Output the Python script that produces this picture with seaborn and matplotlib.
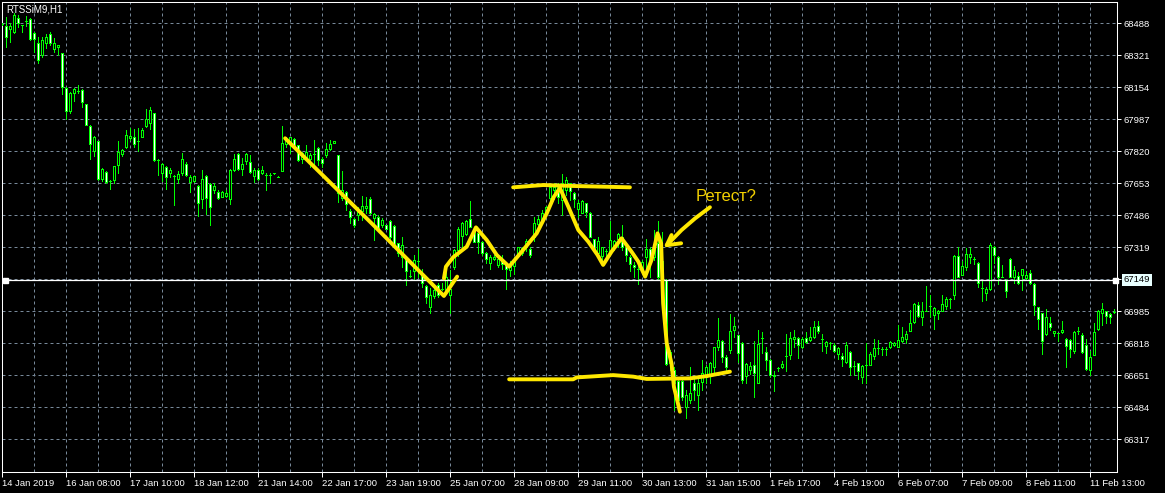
import numpy as np
import matplotlib
matplotlib.use("Agg")
import matplotlib.pyplot as plt
import seaborn as sns

# ---------------- data (H1 bars, RTS-3.19 futures) ----------------
opens = [68483, 68474, 68457, 68441, 68514, 68480, 68502, 68509, 68436, 68384,
         68325, 68384, 68433, 68356, 68363, 68332, 68149, 68032, 68123, 68133,
         68140, 68065, 67952, 67824, 67872, 67676, 67712, 67667, 67670, 67750,
         67806, 67844, 67890, 67893, 67872, 67897, 67952, 67970, 68018, 67775,
         67705, 67740, 67709, 67691, 67677, 67705, 67754, 67662, 67667, 67639,
         67569, 67691, 67649, 67618, 67608, 67583, 67587, 67573, 67722, 67806,
         67726, 67771, 67764, 67691, 67722, 67705, 67698, 67698, 67705, 67688,
         67719, 67858, 67870, 67886, 67851, 67778, 67792, 67782, 67806, 67837,
         67778, 67799, 67834, 67862, 67799, 67575, 67608, 67510, 67465, 67486,
         67510, 67524, 67573, 67470, 67479, 67434, 67434, 67458, 67430, 67340,
         67270, 67267, 67169, 67197, 67249, 67173, 67117, 67009, 67065, 67122,
         67103, 67096, 67072, 67218, 67305, 67378, 67389, 67465, 67409, 67392,
         67347, 67291, 67239, 67256, 67225, 67260, 67228, 67201, 67222, 67274,
         67288, 67319, 67312, 67375, 67441, 67462, 67496, 67575, 67618, 67636,
         67566, 67618, 67653, 67604, 67517, 67500, 67549, 67500, 67361, 67291,
         67274, 67298, 67302, 67326, 67364, 67375, 67319, 67267, 67225, 67208,
         67208, 67270, 67309, 67267, 67340, 67166, 67148, 66713, 66679, 66623,
         66619, 66487, 66522, 66609, 66546, 66616, 66644, 66658, 66696, 66800,
         66832, 66745, 66783, 66887, 66860, 66821, 66647, 66679, 66705, 66613,
         66844, 66773, 66731, 66651, 66691, 66693, 66752, 66759, 66839, 66846,
         66797, 66846, 66835, 66849, 66908, 66839, 66804, 66821, 66811, 66762,
         66752, 66720, 66773, 66700, 66713, 66644, 66703, 66706, 66752, 66794,
         66787, 66790, 66797, 66807, 66800, 66832, 66839, 66884, 66929, 67016,
         66957, 66988, 67013, 66968, 66974, 66988, 67013, 67051, 67068, 67274,
         67176, 67215, 67267, 67256, 67239, 67107, 67082, 67100, 67319, 67270,
         67166, 67149, 67256, 67166, 67169, 67173, 67159, 67183, 67128, 67005,
         66974, 66867, 66922, 66870, 66870, 66877, 66839, 66835, 66776, 66884,
         66860, 66807, 66679, 66759, 66894, 66974, 66985, 66971, 66981]
highs = [68490, 68520, 68492, 68540, 68532, 68480, 68526, 68514, 68440, 68415,
         68419, 68431, 68443, 68410, 68373, 68335, 68154, 68132, 68149, 68165,
         68144, 68067, 67956, 67900, 67876, 67731, 67716, 67670, 67744, 67876,
         67830, 67931, 67940, 67938, 67942, 67940, 68039, 68053, 68022, 67778,
         67757, 67744, 67731, 67695, 67716, 67813, 67763, 67696, 67691, 67644,
         67722, 67695, 67653, 67653, 67618, 67611, 67618, 67729, 67806, 67809,
         67783, 67809, 67799, 67733, 67733, 67743, 67705, 67705, 67707, 67690,
         67952, 67897, 67897, 67890, 67855, 67816, 67855, 67809, 67879, 67841,
         67792, 67865, 67879, 67872, 67803, 67717, 67611, 67517, 67472, 67531,
         67587, 67580, 67580, 67500, 67486, 67470, 67437, 67462, 67434, 67343,
         67375, 67270, 67201, 67277, 67312, 67208, 67121, 67105, 67121, 67131,
         67135, 67204, 67201, 67312, 67423, 67451, 67462, 67563, 67423, 67399,
         67350, 67295, 67277, 67277, 67260, 67277, 67235, 67249, 67267, 67322,
         67322, 67361, 67322, 67479, 67483, 67514, 67535, 67646, 67653, 67653,
         67702, 67684, 67657, 67608, 67566, 67566, 67552, 67503, 67364, 67375,
         67322, 67312, 67458, 67357, 67396, 67436, 67336, 67277, 67242, 67222,
         67253, 67361, 67319, 67409, 67458, 67400, 67152, 66783, 66696, 66626,
         66626, 66574, 66696, 66644, 66630, 66731, 66705, 66722, 66800, 66948,
         66835, 66755, 66971, 66957, 66863, 66825, 66713, 66720, 66832, 66887,
         66877, 66797, 66738, 66672, 66696, 66724, 66867, 66877, 66887, 66849,
         66849, 66877, 66901, 66936, 66936, 66867, 66828, 66825, 66818, 66797,
         66769, 66825, 66776, 66727, 66717, 66706, 66821, 66773, 66842, 66835,
         66797, 66797, 66828, 66825, 66912, 66905, 66884, 66992, 67027, 67034,
         67034, 67117, 67068, 67005, 66992, 67068, 67058, 67055, 67277, 67319,
         67249, 67316, 67316, 67267, 67242, 67149, 67110, 67340, 67326, 67274,
         67225, 67152, 67263, 67222, 67190, 67208, 67194, 67201, 67131, 67010,
         66978, 66999, 66954, 66884, 66874, 66933, 66846, 66842, 66880, 66905,
         66870, 66839, 66780, 66922, 66992, 67027, 66988, 66974, 66999]
lows = [68478, 68363, 68392, 68436, 68471, 68440, 68474, 68401, 68339, 68283,
        68314, 68358, 68375, 68340, 68323, 68119, 67991, 68018, 68085, 68126,
        68050, 67956, 67778, 67796, 67670, 67665, 67656, 67622, 67656, 67709,
        67796, 67836, 67879, 67844, 67824, 67893, 67949, 67938, 67768, 67698,
        67667, 67625, 67688, 67542, 67653, 67698, 67691, 67609, 67662, 67482,
        67522, 67493, 67435, 67601, 67569, 67580, 67580, 67545, 67719, 67722,
        67695, 67754, 67705, 67662, 67670, 67702, 67618, 67653, 67703, 67686,
        67716, 67844, 67810, 67841, 67771, 67757, 67775, 67740, 67740, 67749,
        67740, 67792, 67827, 67862, 67557, 67566, 67514, 67446, 67427, 67461,
        67461, 67496, 67493, 67357, 67409, 67427, 67413, 67361, 67322, 67274,
        67218, 67122, 67166, 67148, 67162, 67114, 67027, 66978, 67054, 67061,
        67096, 67093, 66978, 67208, 67274, 67322, 67382, 67423, 67347, 67291,
        67277, 67239, 67208, 67253, 67218, 67208, 67103, 67169, 67180, 67267,
        67277, 67302, 67270, 67350, 67434, 67458, 67489, 67549, 67570, 67549,
        67488, 67592, 67566, 67531, 67479, 67496, 67479, 67371, 67298, 67284,
        67235, 67267, 67295, 67305, 67322, 67305, 67249, 67197, 67166, 67128,
        67201, 67201, 67166, 67253, 67152, 67148, 66705, 66679, 66470, 66470,
        66522, 66426, 66505, 66522, 66470, 66574, 66609, 66609, 66661, 66783,
        66722, 66672, 66766, 66853, 66722, 66609, 66609, 66658, 66539, 66609,
        66766, 66679, 66644, 66571, 66675, 66689, 66675, 66738, 66800, 66741,
        66793, 66821, 66832, 66846, 66870, 66776, 66766, 66790, 66773, 66738,
        66700, 66717, 66651, 66651, 66630, 66613, 66613, 66703, 66738, 66762,
        66755, 66755, 66793, 66804, 66797, 66825, 66821, 66884, 66926, 66954,
        66915, 66985, 66954, 66894, 66947, 66985, 66999, 67002, 67051, 67162,
        67173, 67201, 67239, 67232, 67110, 67041, 67044, 67096, 67239, 67128,
        67162, 67062, 67162, 67131, 67128, 67096, 67152, 67128, 66968, 66894,
        66762, 66860, 66887, 66856, 66832, 66874, 66693, 66748, 66766, 66867,
        66766, 66679, 66654, 66755, 66887, 66912, 66922, 66922, 66974]
closes = [68483, 68419, 68474, 68532, 68492, 68478, 68502, 68405, 68405, 68297,
          68401, 68415, 68384, 68384, 68373, 68154, 68029, 68126, 68144, 68133,
          68078, 67959, 67857, 67897, 67676, 67728, 67662, 67667, 67744, 67817,
          67827, 67904, 67900, 67857, 67872, 67931, 67989, 68036, 67775, 67775,
          67754, 67688, 67723, 67691, 67702, 67780, 67697, 67688, 67691, 67548,
          67674, 67575, 67528, 67639, 67575, 67608, 67604, 67722, 67778, 67726,
          67754, 67806, 67711, 67722, 67677, 67722, 67698, 67698, 67705, 67688,
          67865, 67882, 67893, 67844, 67775, 67813, 67816, 67802, 67806, 67775,
          67757, 67830, 67858, 67872, 67604, 67618, 67545, 67475, 67437, 67504,
          67535, 67535, 67500, 67491, 67418, 67462, 67416, 67375, 67326, 67288,
          67329, 67194, 67169, 67253, 67249, 67131, 67061, 67070, 67096, 67068,
          67103, 67166, 67100, 67305, 67416, 67448, 67458, 67427, 67349, 67347,
          67288, 67256, 67267, 67270, 67256, 67232, 67208, 67222, 67253, 67319,
          67314, 67354, 67277, 67444, 67469, 67496, 67528, 67636, 67636, 67583,
          67653, 67670, 67615, 67570, 67552, 67563, 67503, 67375, 67305, 67354,
          67319, 67298, 67357, 67354, 67389, 67319, 67277, 67232, 67215, 67208,
          67242, 67309, 67235, 67336, 67166, 67250, 66710, 66774, 66609, 66522,
          66539, 66546, 66557, 66574, 66609, 66665, 66696, 66713, 66797, 66835,
          66745, 66696, 66884, 66908, 66769, 66626, 66710, 66700, 66665, 66814,
          66844, 66731, 66654, 66647, 66691, 66710, 66752, 66846, 66849, 66807,
          66842, 66825, 66849, 66905, 66880, 66839, 66825, 66821, 66776, 66794,
          66734, 66811, 66693, 66700, 66672, 66700, 66703, 66762, 66794, 66794,
          66787, 66790, 66825, 66821, 66835, 66853, 66867, 66922, 67023, 66961,
          66988, 66988, 67013, 67002, 66985, 67023, 67048, 67051, 67274, 67166,
          67222, 67284, 67284, 67256, 67131, 67107, 67100, 67333, 67281, 67166,
          67166, 67093, 67166, 67201, 67131, 67204, 67173, 67131, 67020, 66943,
          66832, 66954, 66901, 66880, 66870, 66887, 66804, 66787, 66877, 66884,
          66773, 66682, 66748, 66877, 66985, 66999, 66961, 66954, 66981]

x_tick_labels = ["14 Jan 2019", "16 Jan 08:00", "17 Jan 10:00", "18 Jan 12:00",
                 "21 Jan 14:00", "22 Jan 17:00", "23 Jan 19:00", "25 Jan 07:00",
                 "28 Jan 09:00", "29 Jan 11:00", "30 Jan 13:00", "31 Jan 15:00",
                 "1 Feb 17:00", "4 Feb 19:00", "6 Feb 07:00", "7 Feb 09:00",
                 "8 Feb 11:00", "11 Feb 13:00"]
y_ticks = [68488, 68321, 68154, 67987, 67820, 67653, 67486, 67319, 67152,
           66985, 66818, 66651, 66484, 66317]
current_price = 67149
title = "RTSSiM9,H1"

# hand-drawn annotations: (bar index, price)
trend_x = [70.7, 93.2, 110.4, 113.7]
trend_y = [67888, 67426, 67065, 67166]
zig_x = [110.4, 110.9, 112.7, 116.1, 118.4, 121.1, 123.6, 126.7, 130.2, 133.6,
         136.1, 137.9, 139.4, 141.5, 144.0, 146.5, 148.8, 150.2, 152.3, 154.8,
         157.3, 159.0, 160.7, 162.3, 163.8, 164.7, 165.2, 166.1, 167.3, 167.9, 169.4]
zig_y = [67157, 67218, 67267, 67322, 67423, 67357, 67279, 67218, 67305, 67392,
         67496, 67583, 67628, 67531, 67409, 67348, 67279, 67227, 67296, 67366,
         67296, 67244, 67166, 67253, 67392, 67340, 67027, 66818, 66713, 66591, 66461]
top_x = [127.7, 135.2, 142.7, 156.9]
top_y = [67632, 67644, 67639, 67632]
bot_x = [126.7, 142.7, 143.6, 152.7, 157.7, 161.1, 171.9, 176.1, 181.9]
bot_y = [66630, 66630, 66640, 66652, 66644, 66632, 66635, 66647, 66670]
arrow_x = [176.9, 173.2, 169.8, 166.1]
arrow_y = [67528, 67470, 67409, 67330]
barb1_x = [169.7, 166.1, 167.3]
barb1_y = [67340, 67330, 67383]
note_text = "Ретест?"
note_x, note_y = 173.2, 67582

# ---------------- style ----------------
sns.set_theme(style="dark", rc={
    "figure.facecolor": "black", "axes.facecolor": "black",
    "savefig.facecolor": "black", "axes.edgecolor": "white",
    "axes.linewidth": 0.75, "text.color": "white",
    "xtick.color": "white", "ytick.color": "white",
    "axes.grid": False,
})
plt.rcParams["font.family"] = ["Liberation Sans", "DejaVu Sans"]

W, H = 1165, 493
fig = plt.figure(figsize=(W / 100, H / 100), dpi=100)
L, R, T, B = 2.2, 1117.3, 2.3, 472.3
ax = fig.add_axes([L / W, (H - B) / H, (R - L) / W, (B - T) / H])

ppb = 4.0            # pixels per bar
ppp = 32.0 / 167.0   # pixels per price point
x0 = 2.33
ax.set_xlim((L - x0) / ppb, (R - x0) / ppb)
ax.set_ylim(68488 - (B - 23.3) / ppp, 68488 + (23.3 - T) / ppp)

GREEN = "#00ff00"
idx = np.arange(len(opens))
o = np.array(opens, float)
c = np.array(closes, float)
hi = np.array(highs, float)
lo = np.array(lows, float)
bull = c >= o
bottom = np.minimum(o, c)
height = np.abs(c - o)

ax.vlines(idx, lo, hi, color=GREEN, lw=0.72, antialiased=False, zorder=3)
ax.bar(idx[bull], height[bull], bottom=bottom[bull], width=0.5, color="black",
       edgecolor=GREEN, linewidth=0.72, antialiased=False, zorder=4)
ax.bar(idx[~bull], height[~bull], bottom=bottom[~bull], width=0.5, color="white",
       edgecolor=GREEN, linewidth=0.72, antialiased=False, zorder=4)

# grid & ticks
ax.set_xticks(np.arange(0, len(opens), 16)[:len(x_tick_labels)])
ax.set_xticklabels(x_tick_labels, ha="left")
ax.set_xticks(np.arange(8, len(opens), 16), minor=True)
ax.set_yticks(y_ticks)
ax.set_yticklabels([str(v) if v != 67152 else "" for v in y_ticks])
ax.yaxis.tick_right()
ax.grid(True, which="both", color="#778899", linestyle=(0, (3, 3)), linewidth=0.72)
ax.set_axisbelow(True)
ax.tick_params(axis="x", which="major", length=3.5, width=0.72, pad=1.5,
               labelsize=6.8, colors="white", bottom=True)
ax.tick_params(axis="x", which="minor", length=0)
ax.tick_params(axis="y", length=3.2, width=0.72, pad=1.5, labelsize=6.8,
               colors="white", right=True, left=False)
for s in ax.spines.values():
    s.set_color("white")
    s.set_linewidth(0.75)

# current price line
ax.axhline(current_price, color="white", lw=0.9, zorder=5)
ax.plot([0.7, 278.2], [current_price, current_price], ls="none", marker="s",
        ms=3.6, color="white", clip_on=False, zorder=6)
ax.annotate(str(current_price), xy=(1, current_price),
            xycoords=("axes fraction", "data"), xytext=(6.5, 0),
            textcoords="offset pixels", ha="left", va="center", color="black",
            fontsize=6.8, annotation_clip=False,
            bbox=dict(boxstyle="square,pad=0.18", fc="#e8ffff", ec="none"))

ax.annotate(title, xy=(0, 1), xycoords="axes fraction", xytext=(4.5, -7.5),
            textcoords="offset pixels", ha="left", va="center", color="white",
            fontsize=7)

# yellow hand-drawn annotations
YEL = "#ffe800"
for xs, ys in [(trend_x, trend_y), (zig_x, zig_y), (top_x, top_y),
               (bot_x, bot_y), (arrow_x, arrow_y), (barb1_x, barb1_y)]:
    sns.lineplot(x=xs, y=ys, sort=False, estimator=None, color=YEL, lw=2.8,
                 ax=ax, zorder=7, solid_capstyle="round", solid_joinstyle="round")
ax.text(note_x, note_y, note_text, color="#f2d000", fontsize=12, ha="left",
        va="center", zorder=8)

ax.set_xlabel("")
ax.set_ylabel("")
fig.savefig("out.png", dpi=100, facecolor="black")
